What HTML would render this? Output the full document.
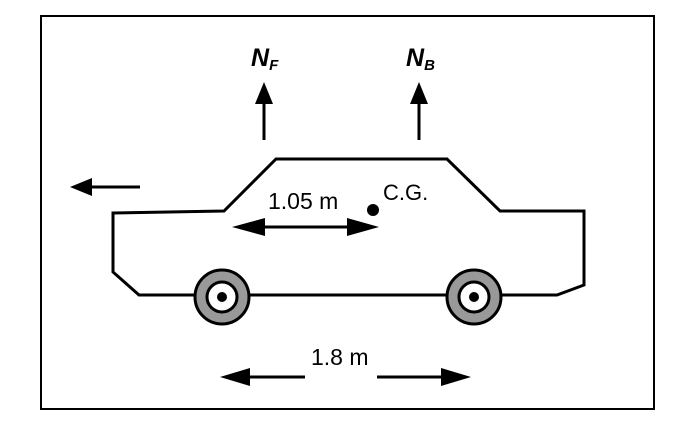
<!DOCTYPE html>
<html><head><style>body{margin:0;background:#fff}svg{display:block}</style></head><body>
<svg width="699" height="422" viewBox="0 0 699 422" xmlns="http://www.w3.org/2000/svg" font-family="Liberation Sans, sans-serif">
<rect x="41" y="16" width="613" height="393" fill="none" stroke="#000" stroke-width="2"/>
<polygon points="113,213 224,211 276,159 447,159 500,211 584,211 584,285 557,295 139,295 113,272" fill="none" stroke="#000" stroke-width="3" stroke-linejoin="miter"/>
<g>
<circle cx="222" cy="297" r="27" fill="#999" stroke="#000" stroke-width="3"/>
<circle cx="222" cy="297" r="15" fill="#fff" stroke="#000" stroke-width="3"/>
<circle cx="222" cy="297" r="5" fill="#000"/>
<circle cx="474" cy="297" r="27" fill="#999" stroke="#000" stroke-width="3"/>
<circle cx="474" cy="297" r="15" fill="#fff" stroke="#000" stroke-width="3"/>
<circle cx="474" cy="297" r="5" fill="#000"/>
</g>
<line x1="90" y1="187" x2="140" y2="187" stroke="#000" stroke-width="3"/>
<polygon points="70,187 92,178 92,196" fill="#000"/>
<line x1="264" y1="140" x2="264" y2="102" stroke="#000" stroke-width="3"/>
<polygon points="264,82 255,104 273,104" fill="#000"/>
<line x1="419" y1="140" x2="419" y2="102" stroke="#000" stroke-width="3"/>
<polygon points="419,82 410,104 428,104" fill="#000"/>
<text x="251" y="66" font-size="25" font-weight="bold" font-style="italic">N<tspan font-size="15" dy="4">F</tspan></text>
<text x="406" y="66" font-size="25" font-weight="bold" font-style="italic">N<tspan font-size="15" dy="4">B</tspan></text>
<line x1="250" y1="227" x2="360" y2="227" stroke="#000" stroke-width="3"/>
<polygon points="232,227 265,218 265,236" fill="#000"/>
<polygon points="379,227 347,218 347,236" fill="#000"/>
<text x="268" y="209" font-size="23">1.05 m</text>
<circle cx="373" cy="210" r="6" fill="#000"/>
<text x="383" y="200" font-size="22">C.G.</text>
<line x1="240" y1="377" x2="305" y2="377" stroke="#000" stroke-width="3"/>
<polygon points="220,377 250,368 250,386" fill="#000"/>
<line x1="377" y1="377" x2="450" y2="377" stroke="#000" stroke-width="3"/>
<polygon points="471,377 441,368 441,386" fill="#000"/>
<text x="311" y="365" font-size="23">1.8 m</text>
</svg>
</body></html>
